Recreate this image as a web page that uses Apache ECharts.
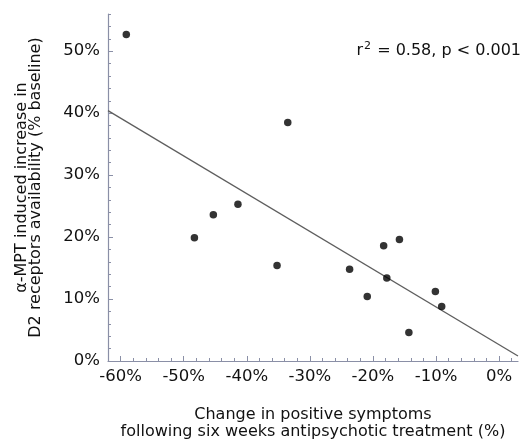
<!DOCTYPE html>
<html>
<head>
<meta charset="utf-8">
<script src="https://cdn.jsdelivr.net/npm/echarts@6/dist/echarts.min.js"></script>
<style>
html,body{margin:0;padding:0;background:#fff;}
#chart{width:522px;height:445px;}
</style>
</head>
<body>
<div id="chart"></div>
<script>
// Data
var symptomChange = [-59.1, -33.5, -48.3, -45.3, -41.4, -35.2, -23.7, -20.9, -18.3, -17.8, -15.8, -14.3, -10.1, -9.1];
var d2Increase    = [52.7, 38.5, 19.9, 23.6, 25.3, 15.4, 14.8, 10.4, 18.6, 13.4, 19.6, 4.6, 11.2, 8.8];
var fitX = [-62, 3];
var fitY = [40.4, 0.8];
var xTickLabels = [-60, -50, -40, -30, -20, -10, 0];
var xMinorTicks = [-60, -58, -56, -54, -52, -50, -48, -46, -44, -42, -40, -38, -36, -34, -32, -30, -28, -26, -24, -22, -20, -18, -16, -14, -12, -10, -8, -6, -4, -2, 0, 2];
var yTickLabels = [0, 10, 20, 30, 40, 50];
var yMinorTicks = [0, 2, 4, 6, 8, 10, 12, 14, 16, 18, 20, 22, 24, 26, 28, 30, 32, 34, 36, 38, 40, 42, 44, 46, 48, 50, 52, 54, 56];
var annotation = ['r', '2', ' = 0.58, p < 0.001'];

var FONT = 'DejaVu Sans';
var AXIS_COLOR = '#8a8fa6';
var TEXT_COLOR = '#111';

var points = symptomChange.map(function (x, i) { return [x, d2Increase[i]]; });
var fitLine = fitX.map(function (x, i) { return [x, fitY[i]]; });

var chart = echarts.init(document.getElementById('chart'), null, {renderer: 'canvas'});
chart.setOption({
  animation: false,
  backgroundColor: '#fff',
  title: {
    text: '{r|' + annotation[0] + '}{s|' + annotation[1] + '}{r|' + annotation[2] + '}',
    right: -4,
    top: 36,
    textStyle: {
      fontWeight: 'normal',
      rich: {
        r: {fontFamily: FONT, fontSize: 16, fontWeight: 'normal', color: TEXT_COLOR},
        s: {fontFamily: FONT, fontSize: 11, fontWeight: 'normal', color: TEXT_COLOR, verticalAlign: 'top', padding: [0, 1, 8, 1]}
      }
    }
  },
  grid: {left: 108, top: 14, width: 410, height: 350},
  xAxis: [{
    type: 'value', min: -62, max: 3,
    name: 'Change in positive symptoms\nfollowing six weeks antipsychotic treatment (%)',
    nameLocation: 'middle', nameGap: 45,
    nameTextStyle: {fontFamily: FONT, fontSize: 16, color: TEXT_COLOR, lineHeight: 17},
    splitLine: {show: false},
    axisLine: {show: true, onZero: false, lineStyle: {color: AXIS_COLOR, width: 1.2}},
    axisTick: {show: true, inside: true, length: 5, customValues: xTickLabels, lineStyle: {color: AXIS_COLOR}},
    axisLabel: {customValues: xTickLabels, formatter: function (v) { return v + '%'; },
      fontFamily: FONT, fontSize: 16.5, color: TEXT_COLOR, margin: 7}
  }, {
    type: 'value', min: -62, max: 3, position: 'bottom',
    splitLine: {show: false},
    axisLine: {show: false, onZero: false},
    axisTick: {show: true, inside: true, length: 3, customValues: xMinorTicks, lineStyle: {color: AXIS_COLOR}},
    axisLabel: {show: false}
  }],
  yAxis: [{
    type: 'value', min: 0, max: 56,
    name: '\u03b1-MPT induced increase in\nD2 receptors availability (% baseline)',
    nameLocation: 'middle', nameGap: 65, nameRotate: 90,
    nameTextStyle: {fontFamily: FONT, fontSize: 16, color: TEXT_COLOR, lineHeight: 14},
    splitLine: {show: false},
    axisLine: {show: true, onZero: false, lineStyle: {color: AXIS_COLOR, width: 1.2}},
    axisTick: {show: true, inside: true, length: 5, customValues: yTickLabels, lineStyle: {color: AXIS_COLOR}},
    axisLabel: {customValues: yTickLabels, formatter: function (v) { return v + '%'; },
      fontFamily: FONT, fontSize: 16.5, color: TEXT_COLOR, margin: 8}
  }, {
    type: 'value', min: 0, max: 56, position: 'left',
    splitLine: {show: false},
    axisLine: {show: false, onZero: false},
    axisTick: {show: true, inside: true, length: 3, customValues: yMinorTicks, lineStyle: {color: AXIS_COLOR}},
    axisLabel: {show: false}
  }],
  series: [{
    type: 'line',
    data: fitLine,
    showSymbol: false,
    lineStyle: {color: '#5e5e5e', width: 1.3},
    silent: true,
    z: 2
  }, {
    type: 'scatter',
    data: points,
    symbol: 'circle',
    symbolSize: 7.5,
    itemStyle: {color: '#000'},
    z: 3
  }]
});
</script>
</body>
</html>
